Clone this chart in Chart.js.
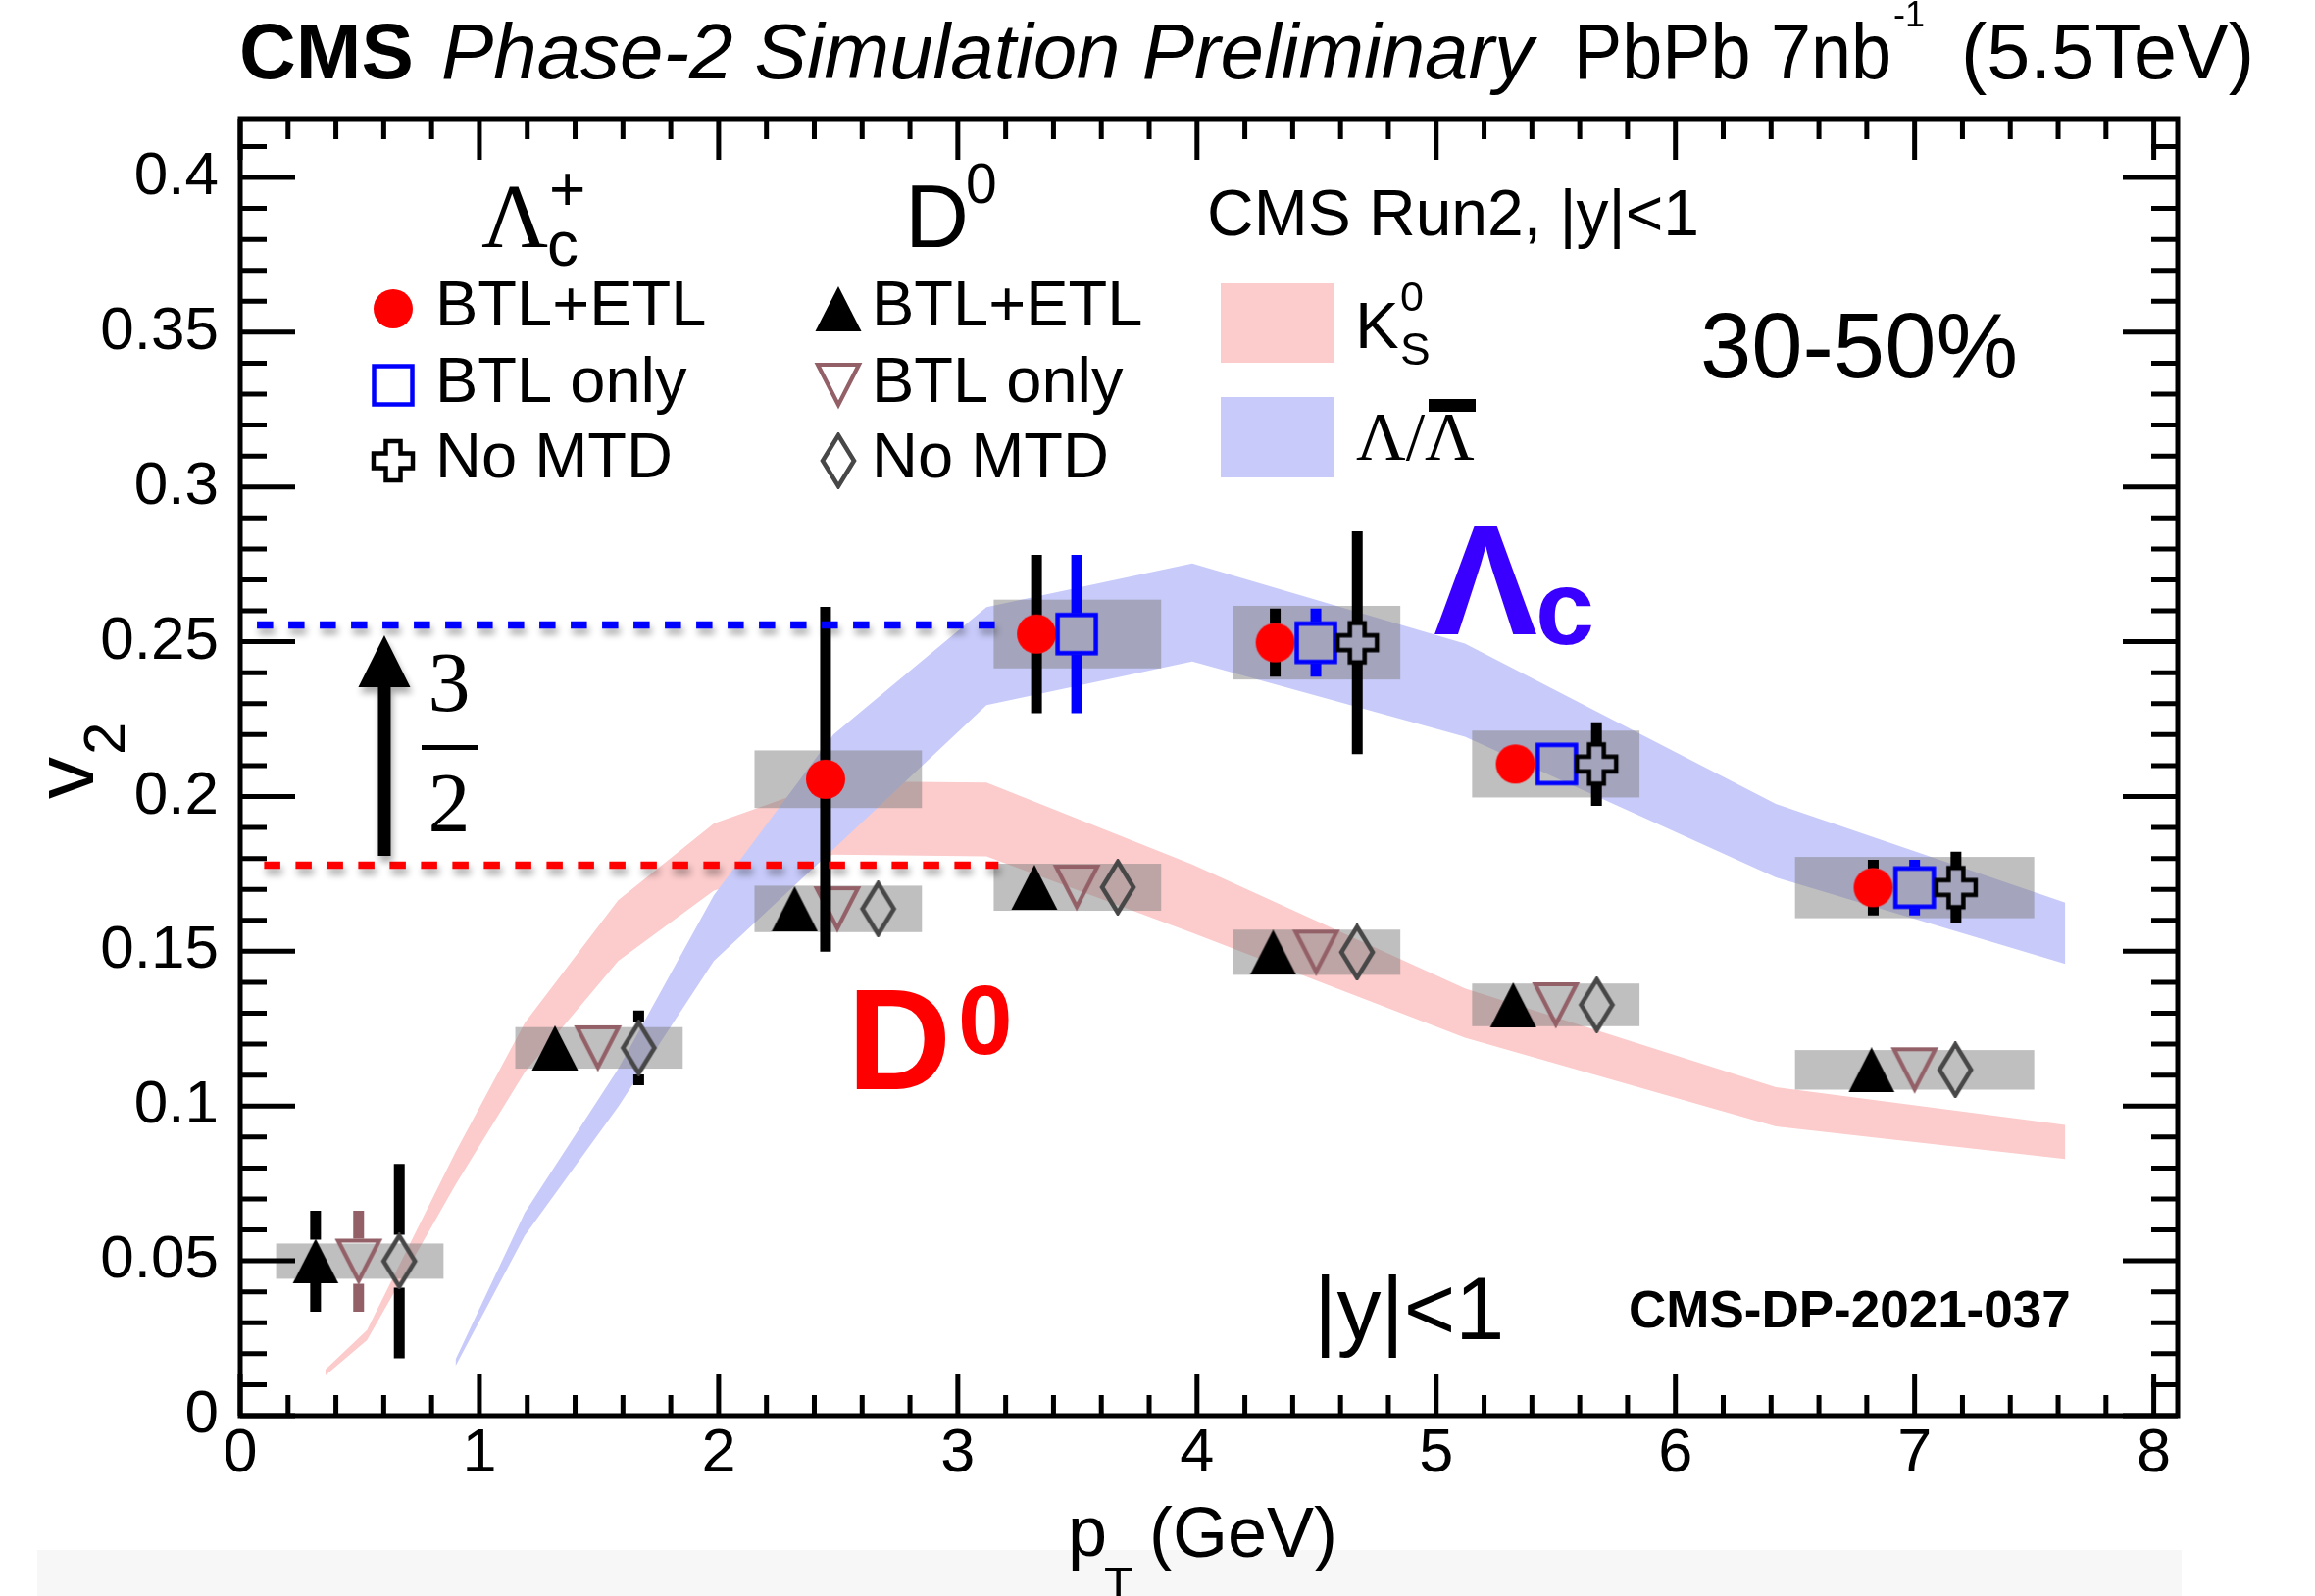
<!DOCTYPE html>
<html>
<head>
<meta charset="utf-8">
<script src="https://cdn.jsdelivr.net/npm/chart.js@4.4.1/dist/chart.umd.min.js"></script>
<style>
  html, body { margin: 0; padding: 0; background: #fff; }
  canvas { display: block; }
</style>
</head>
<body>
<canvas id="v2Chart" width="2361" height="1628"></canvas>
<script>
// D0 points, one entry per pT bin
const d0Bins = [0.5, 1.5, 2.5, 3.5, 4.5, 5.5, 7.0];
const d0HalfWidth = [0.35, 0.35, 0.35, 0.35, 0.35, 0.35, 0.5];
const d0V2 = [0.0499, 0.1188, 0.1637, 0.1707, 0.1497, 0.1327, 0.1117];
const d0Sys = [0.0057, 0.0067, 0.0075, 0.0076, 0.0073, 0.0069, 0.0064];
const d0PtFull = [0.315, 1.316, 2.318, 3.320, 4.318, 5.322, 6.820];
const d0PtBtl = [0.495, 1.495, 2.496, 3.497, 4.498, 5.500, 7.000];
const d0PtNoMtd = [0.665, 1.666, 2.667, 3.669, 4.669, 5.671, 7.170];
const d0ErrFull = [0.0163, 0.005, 0.004, 0.004, 0.004, 0.004, 0.004];
const d0ErrBtl = [0.0163, 0.005, 0.004, 0.004, 0.004, 0.004, 0.004];
const d0ErrNoMtd = [0.0314, 0.0121, 0.006, 0.006, 0.006, 0.006, 0.006];

// Lambda_c points (null = no point for that detector setup)
const lcBins = [2.5, 3.5, 4.5, 5.5, 7.0];
const lcHalfWidth = [0.35, 0.35, 0.35, 0.35, 0.5];
const lcV2 = [0.2056, 0.2525, 0.2497, 0.2105, 0.1706];
const lcSys = [0.0093, 0.0111, 0.0119, 0.0108, 0.0099];
const lcPtFull = [2.447, 3.329, 4.327, 5.331, 6.827];
const lcPtBtl = [null, 3.497, 4.497, 5.504, 7.000];
const lcPtNoMtd = [null, null, 4.670, 5.670, 7.173];
const lcErrFull = [0.0557, 0.0256, 0.0110, 0.0050, 0.0090];
const lcErrBtl = [null, 0.0256, 0.0110, 0.0050, 0.0090];
const lcErrNoMtd = [null, null, 0.0360, 0.0135, 0.0116];

// Run2 K0s and Lambda bands (upper / lower edge)
const k0sPt = [0.356, 0.53, 0.9, 1.19, 1.58, 1.98, 2.48, 3.12, 3.98, 5.12, 6.42, 7.63];
const k0sHigh = [0.0149, 0.0276, 0.0851, 0.1269, 0.1665, 0.1913, 0.2050, 0.2045, 0.1781, 0.1380, 0.1061, 0.0939];
const k0sLow = [0.0130, 0.0244, 0.0746, 0.1110, 0.1469, 0.1696, 0.1812, 0.1807, 0.1560, 0.1221, 0.0934, 0.0829];
const lamPt = [0.9, 1.19, 1.58, 1.98, 2.48, 3.12, 3.98, 5.12, 6.42, 7.63];
const lamHigh = [0.0181, 0.0656, 0.1120, 0.1681, 0.2200, 0.2612, 0.2753, 0.2494, 0.1976, 0.1657];
const lamLow = [0.0160, 0.0582, 0.0998, 0.1469, 0.1830, 0.2295, 0.2436, 0.2193, 0.1739, 0.1459];

// reference levels and the 3/2 arrow
const lcLevel = { v2: 0.2554, from: 0.07, to: 3.16 };
const d0Level = { v2: 0.1778, from: 0.10, to: 3.17 };
const scaleArrow = { pt: 0.6025, from: 0.1808, to: 0.2521 };

const xTickValues = [0, 1, 2, 3, 4, 5, 6, 7, 8];
const xTickLabels = ['0', '1', '2', '3', '4', '5', '6', '7', '8'];
const yTickValues = [0, 0.05, 0.1, 0.15, 0.2, 0.25, 0.3, 0.35, 0.4];
const yTickLabels = ['0', '0.05', '0.1', '0.15', '0.2', '0.25', '0.3', '0.35', '0.4'];

const SANS = "'Liberation Sans', Arial, Helvetica, sans-serif";
const SERIF = "'Liberation Serif', 'Times New Roman', serif";
const RED = '#ff0000';
const BLUE = '#0000ff';
const MAUVE = '#946068';
const DIAMOND_GREY = '#474747';
const PINK_BAND = '#fccbcb';
const BLUE_BAND = '#c8cbfa';
const SYS_FILL = 'rgba(128,128,128,0.5)';

// ---- marker sprites (ROOT style markers) ----
function sprite(w, h, paint) {
  const c = document.createElement('canvas');
  c.width = w; c.height = h;
  const g = c.getContext('2d');
  paint(g, w, h);
  return c;
}
const mk = {
  dot: sprite(42, 42, g => {
    g.fillStyle = RED; g.beginPath(); g.arc(21, 21, 20, 0, Math.PI * 2); g.fill();
  }),
  square: sprite(46, 46, g => {
    g.strokeStyle = BLUE; g.lineWidth = 4.5; g.strokeRect(3.5, 3.5, 39, 39);
  }),
  cross: sprite(48, 48, g => {
    const c = 24, a = 7.5, r = 20;
    const pts = [[-a, -r], [a, -r], [a, -a], [r, -a], [r, a], [a, a], [a, r], [-a, r], [-a, a], [-r, a], [-r, -a], [-a, -a]];
    g.strokeStyle = '#000'; g.lineWidth = 4.5; g.lineJoin = 'miter';
    g.beginPath();
    pts.forEach(([x, y], i) => i ? g.lineTo(c + x, c + y) : g.moveTo(c + x, c + y));
    g.closePath(); g.stroke();
  }),
  triangle: sprite(48, 46, g => {
    g.fillStyle = '#000'; g.beginPath();
    g.moveTo(24, 0); g.lineTo(47.5, 46); g.lineTo(0.5, 46); g.closePath(); g.fill();
  }),
  invTriangle: sprite(50, 50, g => {
    g.strokeStyle = MAUVE; g.lineWidth = 4.2; g.lineJoin = 'miter';
    g.beginPath(); g.moveTo(4, 4); g.lineTo(46, 4); g.lineTo(25, 45); g.closePath(); g.stroke();
  }),
  diamond: sprite(40, 58, g => {
    g.strokeStyle = DIAMOND_GREY; g.lineWidth = 4.5; g.lineJoin = 'miter';
    g.beginPath(); g.moveTo(20, 3); g.lineTo(36, 29); g.lineTo(20, 55); g.lineTo(4, 29); g.closePath(); g.stroke();
  })
};

function series(pts, v2, errs) {
  return pts.map((x, i) => (x == null ? null : { x, y: v2[i], err: errs[i] })).filter(Boolean);
}
function edge(pts, vals) {
  return pts.map((x, i) => ({ x, y: vals[i] }));
}

function bandSet(label, pts, vals, color, fill, order) {
  return {
    type: 'line', label, data: edge(pts, vals),
    borderWidth: 0, borderColor: 'rgba(0,0,0,0)', backgroundColor: color,
    pointRadius: 0, tension: 0, fill, order
  };
}
function markerSet(label, data, style, errColor, errGap, order) {
  return {
    type: 'line', label, data, showLine: false,
    pointStyle: style, pointRadius: 22, pointHoverRadius: 22,
    errColor, errGap, order
  };
}

const px = (chart, v) => chart.scales.x.getPixelForValue(v);
const py = (chart, v) => chart.scales.y.getPixelForValue(v);

function drawSysBoxes(chart) {
  const ctx = chart.ctx;
  ctx.save();
  ctx.fillStyle = SYS_FILL;
  [[d0Bins, d0HalfWidth, d0V2, d0Sys], [lcBins, lcHalfWidth, lcV2, lcSys]].forEach(([bins, hw, v2, sys]) => {
    bins.forEach((b, i) => {
      const x0 = px(chart, b - hw[i]), x1 = px(chart, b + hw[i]);
      const y0 = py(chart, v2[i] + sys[i]), y1 = py(chart, v2[i] - sys[i]);
      ctx.fillRect(x0, y0, x1 - x0, y1 - y0);
    });
  });
  ctx.restore();
}

// vertical stat. error bars, left open inside the marker
function drawErrBars(chart, index) {
  const ds = chart.data.datasets[index];
  const meta = chart.getDatasetMeta(index);
  const ctx = chart.ctx;
  ctx.save();
  ctx.strokeStyle = ds.errColor;
  ctx.lineWidth = 11;
  ctx.beginPath();
  meta.data.forEach((el, j) => {
    const p = ds.data[j];
    const top = py(chart, p.y + p.err), bot = py(chart, p.y - p.err);
    const g = ds.errGap;
    if (el.y - g > top) { ctx.moveTo(el.x, top); ctx.lineTo(el.x, el.y - g); }
    if (el.y + g < bot) { ctx.moveTo(el.x, el.y + g); ctx.lineTo(el.x, bot); }
  });
  ctx.stroke();
  ctx.restore();
}

function text(ctx, s, x, y, size, opts = {}) {
  ctx.font = `${opts.style || ''} ${opts.weight || ''} ${size}px ${opts.family || SANS}`;
  ctx.fillStyle = opts.color || '#000';
  ctx.textAlign = opts.align || 'left';
  ctx.textBaseline = 'alphabetic';
  if (opts.width) {
    const w = ctx.measureText(s).width;
    ctx.save();
    ctx.translate(x, y);
    ctx.scale(opts.width / w, 1);
    ctx.fillText(s, 0, 0);
    ctx.restore();
  } else {
    ctx.fillText(s, x, y);
  }
}

function withShadow(ctx) {
  ctx.shadowColor = 'rgba(0,0,0,0.33)';
  ctx.shadowBlur = 7;
  ctx.shadowOffsetX = 2;
  ctx.shadowOffsetY = 6;
}

function drawLevels(chart) {
  const ctx = chart.ctx;
  ctx.save();
  withShadow(ctx);
  ctx.lineWidth = 7.5;
  ctx.setLineDash([16.5, 15.5]);
  [[lcLevel, BLUE], [d0Level, RED]].forEach(([lv, col]) => {
    ctx.strokeStyle = col;
    ctx.beginPath();
    ctx.moveTo(px(chart, lv.from), py(chart, lv.v2));
    ctx.lineTo(px(chart, lv.to), py(chart, lv.v2));
    ctx.stroke();
  });
  ctx.setLineDash([]);
  // arrow
  const x = px(chart, scaleArrow.pt);
  const yb = py(chart, scaleArrow.from), yt = py(chart, scaleArrow.to);
  const head = 53, hw = 26.5, sw = 6.5;
  ctx.fillStyle = '#000';
  ctx.beginPath();
  ctx.moveTo(x - sw, yb); ctx.lineTo(x - sw, yt + head); ctx.lineTo(x - hw, yt + head);
  ctx.lineTo(x, yt); ctx.lineTo(x + hw, yt + head); ctx.lineTo(x + sw, yt + head);
  ctx.lineTo(x + sw, yb); ctx.closePath();
  ctx.fill();
  ctx.restore();

  // 3/2 factor
  text(ctx, '3', 458, 725, 86, { family: SERIF, align: 'center' });
  text(ctx, '2', 458, 848, 86, { family: SERIF, align: 'center' });
  ctx.fillStyle = '#000';
  ctx.fillRect(430, 760, 58, 5);
}

function drawLabels(chart) {
  const ctx = chart.ctx;
  ctx.save();

  // header
  text(ctx, 'CMS', 244, 80, 80, { weight: 'bold' });
  text(ctx, 'Phase-2 Simulation Preliminary', 450, 80, 80, { style: 'italic', width: 1114 });
  text(ctx, 'PbPb 7nb', 1605, 80, 80, { width: 324 });
  text(ctx, '-1', 1931, 27, 36);
  text(ctx, '(5.5TeV)', 2000, 80, 80, { width: 299 });

  // legend headers
  text(ctx, 'Λ', 491, 252, 94, { family: SERIF });
  text(ctx, 'c', 558, 271, 64);
  text(ctx, '+', 560, 215, 64);
  text(ctx, 'D', 923, 252, 90);
  text(ctx, '0', 985, 207, 57);

  // legend entries
  const rows = [[315, 332, 'BTL+ETL'], [393, 410, 'BTL only'], [470, 487, 'No MTD']];
  const lcMarks = [mk.dot, mk.square, mk.cross];
  const d0Marks = [mk.triangle, mk.invTriangle, mk.diamond];
  rows.forEach(([yc, base, s], i) => {
    ctx.drawImage(lcMarks[i], 401 - lcMarks[i].width / 2, yc - lcMarks[i].height / 2);
    ctx.drawImage(d0Marks[i], 855 - d0Marks[i].width / 2, yc - d0Marks[i].height / 2);
    text(ctx, s, 444, base, 65);
    text(ctx, s, 889, base, 65);
  });

  text(ctx, 'CMS Run2, |y|<1', 1231, 240, 66);
  ctx.fillStyle = PINK_BAND; ctx.fillRect(1245, 289, 116, 81);
  ctx.fillStyle = BLUE_BAND; ctx.fillRect(1245, 405, 116, 82);
  text(ctx, 'K', 1382, 355, 67);
  text(ctx, '0', 1428, 317, 43);
  text(ctx, 'S', 1428, 372, 46);
  text(ctx, 'Λ/', 1383, 469, 70, { family: SERIF });
  text(ctx, 'Λ', 1453, 469, 70, { family: SERIF });
  ctx.fillStyle = '#000'; ctx.fillRect(1457, 407, 48, 13);

  text(ctx, '30-50%', 1734, 385, 94);

  // particle tags
  text(ctx, 'Λ', 1462, 647, 159, { weight: 'bold', color: '#3a00ff' });
  text(ctx, 'c', 1566, 657, 108, { weight: 'bold', color: '#3a00ff' });
  text(ctx, 'D', 864, 1111, 147, { weight: 'bold', color: RED });
  text(ctx, '0', 977, 1075, 100, { weight: 'bold', color: RED });

  text(ctx, '|y|<1', 1340, 1366, 90);
  text(ctx, 'CMS-DP-2021-037', 1661, 1354, 53, { weight: 'bold' });

  // axis titles
  text(ctx, 'p', 1089, 1587, 72);
  text(ctx, 'T', 1126, 1632, 48);
  text(ctx, '(GeV)', 1172, 1588, 72);
  ctx.save();
  ctx.translate(95, 815); ctx.rotate(-Math.PI / 2);
  text(ctx, 'v', 0, 0, 86);
  ctx.restore();
  ctx.save();
  ctx.translate(127, 770); ctx.rotate(-Math.PI / 2);
  text(ctx, '2', 0, 0, 60);
  ctx.restore();

  ctx.restore();
}

// frame with inward ticks on all four sides
function drawFrame(chart) {
  const { ctx, chartArea: a } = chart;
  ctx.save();
  ctx.strokeStyle = '#000';
  ctx.lineWidth = 5;
  ctx.beginPath();
  for (let k = 0; k <= 40; k++) {
    const x = px(chart, k * 0.2);
    const len = k % 5 === 0 ? 42 : 21;
    ctx.moveTo(x, a.bottom); ctx.lineTo(x, a.bottom - len);
    ctx.moveTo(x, a.top); ctx.lineTo(x, a.top + len);
  }
  for (let k = 0; k <= 41; k++) {
    const y = py(chart, k * 0.01);
    const len = k % 5 === 0 ? 56 : 27;
    ctx.moveTo(a.left, y); ctx.lineTo(a.left + len, y);
    ctx.moveTo(a.right, y); ctx.lineTo(a.right - len, y);
  }
  ctx.stroke();
  ctx.strokeRect(a.left, a.top, a.right - a.left, a.bottom - a.top);
  ctx.restore();
}

const cmsPlot = {
  id: 'cmsPlot',
  beforeDraw(chart) {
    const ctx = chart.ctx;
    ctx.save();
    ctx.fillStyle = '#f7f7f7';
    ctx.fillRect(38, 1581, 2187, 47);
    ctx.restore();
  },
  afterDatasetDraw(chart, args) {
    if (chart.data.datasets[args.index].label === 'lambda low') drawSysBoxes(chart);
  },
  beforeDatasetDraw(chart, args) {
    if (chart.data.datasets[args.index].errColor) drawErrBars(chart, args.index);
  },
  afterDatasetsDraw(chart) {
    drawLevels(chart);
    drawLabels(chart);
  },
  afterDraw(chart) {
    drawFrame(chart);
  }
};

new Chart(document.getElementById('v2Chart'), {
  type: 'line',
  data: {
    datasets: [
      bandSet('k0s high', k0sPt, k0sHigh, PINK_BAND, false, 20),
      bandSet('k0s low', k0sPt, k0sLow, PINK_BAND, '-1', 19),
      bandSet('lambda high', lamPt, lamHigh, BLUE_BAND, false, 18),
      bandSet('lambda low', lamPt, lamLow, BLUE_BAND, '-1', 17),
      markerSet('D0 BTL+ETL', series(d0PtFull, d0V2, d0ErrFull), mk.triangle, '#000', 22, 6),
      markerSet('D0 BTL only', series(d0PtBtl, d0V2, d0ErrBtl), mk.invTriangle, MAUVE, 23, 5),
      markerSet('D0 No MTD', series(d0PtNoMtd, d0V2, d0ErrNoMtd), mk.diamond, '#000', 27, 4),
      markerSet('Lc BTL+ETL', series(lcPtFull, lcV2, lcErrFull), mk.dot, '#000', 19, 3),
      markerSet('Lc BTL only', series(lcPtBtl, lcV2, lcErrBtl), mk.square, BLUE, 21, 2),
      markerSet('Lc No MTD', series(lcPtNoMtd, lcV2, lcErrNoMtd), mk.cross, '#000', 21, 1)
    ]
  },
  options: {
    responsive: false,
    devicePixelRatio: 1,
    animation: false,
    events: [],
    layout: { padding: { top: 121, right: 140, left: 0, bottom: 0 } },
    plugins: { legend: { display: false }, tooltip: { enabled: false } },
    scales: {
      x: {
        type: 'linear', min: 0, max: 8.1,
        grid: { display: false, drawTicks: false },
        border: { display: false },
        afterBuildTicks: s => { s.ticks = xTickValues.map(v => ({ value: v })); },
        afterFit: s => { s.height = 184; },
        ticks: {
          color: '#000', font: { family: SANS, size: 63 }, padding: 2,
          maxRotation: 0, autoSkip: false,
          callback: (v, i) => xTickLabels[i]
        }
      },
      y: {
        type: 'linear', min: 0, max: 0.419,
        grid: { display: false, drawTicks: false },
        border: { display: false },
        afterBuildTicks: s => { s.ticks = yTickValues.map(v => ({ value: v })); },
        afterFit: s => { s.width = 245; },
        ticks: {
          color: '#000', font: { family: SANS, size: 62 }, padding: 22,
          autoSkip: false,
          callback: (v, i) => yTickLabels[i]
        }
      }
    }
  },
  plugins: [cmsPlot]
});
</script>
</body>
</html>
